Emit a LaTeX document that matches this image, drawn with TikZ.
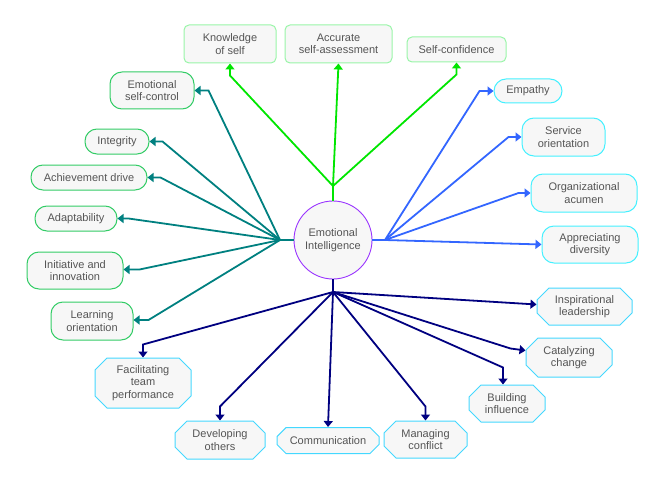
\documentclass[tikz,border=0pt]{standalone}
\usepackage{fontspec}
\setmainfont{Liberation Sans}
\usetikzlibrary{arrows.meta, shapes.misc}

\definecolor{txtgray}{HTML}{555555}
\definecolor{boxfill}{HTML}{F7F7F7}
\definecolor{hubline}{HTML}{9933FF}
\definecolor{awareline}{HTML}{00E600}
\definecolor{awareedge}{HTML}{99F5A8}
\definecolor{manageline}{HTML}{008080}
\definecolor{manageedge}{HTML}{33CC66}
\definecolor{socialline}{HTML}{3366FF}
\definecolor{socialedge}{HTML}{44F0FF}
\definecolor{relline}{HTML}{000080}
\definecolor{reledge}{HTML}{44D8FF}

\begin{document}
\begin{tikzpicture}[
        x=1pt, y=-1pt,
        every node/.style={font=\fontsize{11}{12.5}\selectfont, text=txtgray, align=center, inner sep=0pt},
        hub/.style={circle, draw=hubline, fill=boxfill, line width=0.9pt, minimum size=78pt},
        awarebox/.style={draw=awareedge, fill=boxfill, line width=1pt, rounded corners=5pt},
        managebox/.style={draw=manageedge, fill=boxfill, line width=1pt, rounded corners=12pt},
        socialbox/.style={draw=socialedge, fill=boxfill, line width=1pt, rounded corners=12pt},
        relbox/.style={chamfered rectangle, chamfered rectangle xsep=6pt, chamfered rectangle ysep=6pt,
                       draw=reledge, fill=boxfill, line width=1pt},
        link/.style={line width=1.8pt, -{Triangle[length=6pt, width=9pt]}},
        stub/.style={line width=1.8pt}
    ]
\useasboundingbox (0,0) rectangle (663,484);

% Central concept
\node[hub] (EI) at (333,240) {Emotional\\Intelligence};

% Branch points
\coordinate (jA) at (333,186);
\coordinate (jM) at (280,240);
\coordinate (jS) at (385,240);
\coordinate (jR) at (333,292);

% Self-awareness
\node[awarebox, minimum width=92pt, minimum height=38pt] (KS) at (230,44) {Knowledge\\of self};
\node[awarebox, minimum width=107pt, minimum height=38pt] (ASA) at (338.5,44) {Accurate\\self-assessment};
\node[awarebox, minimum width=99pt, minimum height=25pt] (SC) at (456.5,49.5) {Self-confidence};

% Self-management
\node[managebox, minimum width=84pt, minimum height=37pt] (ESC) at (152,90.5) {Emotional\\self-control};
\node[managebox, minimum width=64pt, minimum height=25pt] (INT) at (117,141.5) {Integrity};
\node[managebox, minimum width=116pt, minimum height=25pt] (ACH) at (89,177.5) {Achievement drive};
\node[managebox, minimum width=82pt, minimum height=25pt] (ADP) at (76,218.5) {Adaptability};
\node[managebox, minimum width=96pt, minimum height=37pt] (INI) at (75,270.5) {Initiative and\\innovation};
\node[managebox, minimum width=82pt, minimum height=38pt] (LRN) at (92,321) {Learning\\orientation};

% Social awareness
\node[socialbox, minimum width=68pt, minimum height=24pt] (EMP) at (528,91) {Empathy};
\node[socialbox, minimum width=83pt, minimum height=38pt] (SRV) at (563.5,137) {Service\\orientation};
\node[socialbox, minimum width=106pt, minimum height=38pt] (ORG) at (584,193) {Organizational\\acumen};
\node[socialbox, minimum width=96pt, minimum height=37pt] (APD) at (590,244.5) {Appreciating\\diversity};

% Relationship management
\node[relbox, minimum width=96pt, minimum height=50pt] (FTP) at (143,383) {Facilitating\\team\\performance};
\node[relbox, minimum width=90pt, minimum height=38pt] (DEV) at (220,440) {Developing\\others};
\node[relbox, minimum width=102pt, minimum height=26pt, chamfered rectangle xsep=5pt, chamfered rectangle ysep=5pt] (COM) at (328,440.5) {Communication};
\node[relbox, minimum width=83pt, minimum height=37pt] (MGC) at (425.5,439.5) {Managing\\conflict};
\node[relbox, minimum width=76pt, minimum height=37pt] (BLD) at (507,403.5) {Building\\influence};
\node[relbox, minimum width=86pt, minimum height=39pt] (CAT) at (569,357.5) {Catalyzing\\change};
\node[relbox, minimum width=95pt, minimum height=37pt] (INS) at (584.5,306.5) {Inspirational\\leadership};

% Stubs out of the circle
\draw[stub, awareline] (EI.north) -- (jA);
\draw[stub, manageline] (EI.west) -- (jM);
\draw[stub, socialline] (EI.east) -- (jS);
\draw[stub, relline] (EI.south) -- (jR);

% Self-awareness links
\draw[link, awareline] (jA) -- ([yshift=-12pt]KS.south) -- (KS.south);
\draw[link, awareline] (jA) -- (ASA.south);
\draw[link, awareline] (jA) -- ([yshift=-12pt]SC.south) -- (SC.south);

% Self-management links
\draw[link, manageline] (jM) -- ([xshift=14pt]ESC.east) -- (ESC.east);
\draw[link, manageline] (jM) -- ([xshift=13pt]INT.east) -- (INT.east);
\draw[link, manageline] (jM) -- ([xshift=13pt]ACH.east) -- (ACH.east);
\draw[link, manageline] (jM) -- ([xshift=11pt]ADP.east) -- (ADP.east);
\draw[link, manageline] (jM) -- ([xshift=16pt, yshift=1pt]INI.east) -- ([yshift=1pt]INI.east);
\draw[link, manageline] (jM) -- ([xshift=15pt, yshift=1pt]LRN.east) -- ([yshift=1pt]LRN.east);

% Social awareness links
\draw[link, socialline] (jS) -- ([xshift=-14pt]EMP.west) -- (EMP.west);
\draw[link, socialline] (jS) -- ([xshift=-13pt]SRV.west) -- (SRV.west);
\draw[link, socialline] (jS) -- ([xshift=-12pt]ORG.west) -- (ORG.west);
\draw[link, socialline] (jS) -- (APD.west);

% Relationship management links
\draw[link, relline] (jR) -- ([yshift=13pt]FTP.north) -- (FTP.north);
\draw[link, relline] (jR) -- ([yshift=14pt]DEV.north) -- (DEV.north);
\draw[link, relline] (jR) -- (COM.north);
\draw[link, relline] (jR) -- ([yshift=14pt]MGC.north) -- (MGC.north);
\draw[link, relline] (jR) -- ([xshift=-4pt, yshift=17pt]BLD.north) -- ([xshift=-4pt]BLD.north);
\draw[link, relline] (jR) -- ([xshift=-15pt, yshift=9pt]CAT.west) -- ([yshift=7pt]CAT.west);
\draw[link, relline] (jR) -- ([yshift=2pt]INS.west);
\end{tikzpicture}
\end{document}
